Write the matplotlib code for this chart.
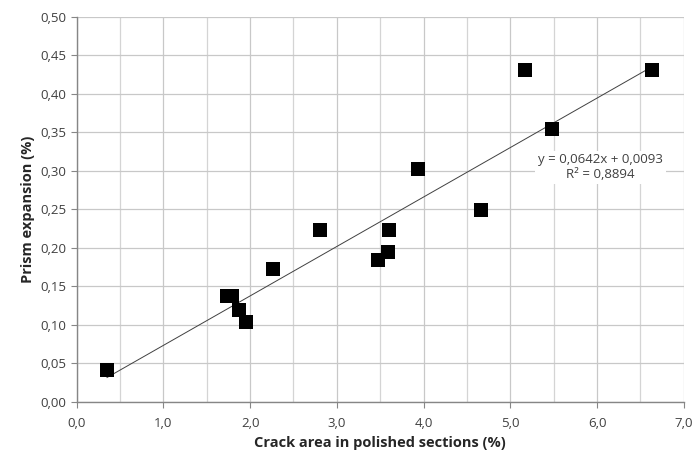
import numpy as np
import matplotlib.pyplot as plt
from matplotlib.ticker import MultipleLocator, FuncFormatter

############################################
# data
crack_area = [0.35, 1.73, 1.79, 1.87, 1.95, 2.26, 2.80, 3.47, 3.59, 3.60,
              3.94, 4.66, 5.17, 5.48, 6.63]
prism_exp = [0.042, 0.138, 0.137, 0.119, 0.104, 0.173, 0.223, 0.184, 0.195,
             0.223, 0.302, 0.249, 0.431, 0.355, 0.431]
slope, intercept, r2 = 0.0642, 0.0093, 0.8894

plt.rcParams['font.family'] = ['Open Sans', 'DejaVu Sans']

#############################################
## plotting
fig, ax = plt.subplots(figsize=(6.97, 4.55), dpi=100)
fig.subplots_adjust(left=0.110, right=0.981, top=0.963, bottom=0.1165)

ax.scatter(crack_area, prism_exp, marker='s', s=90, color='black', zorder=3, linewidths=0)

# linear trend line
xfit = np.array([min(crack_area), max(crack_area)])
ax.plot(xfit, slope * xfit + intercept, color='#404040', lw=0.7, zorder=2)

ax.text(6.04, 0.305, 'y = 0,0642x + 0,0093\nR² = 0,8894', ha='center', va='center',
        fontsize=9.5, color='#404040', linespacing=1.15,
        bbox=dict(facecolor='white', edgecolor='none', pad=2), zorder=4)

# scales
ax.set_xlim(0, 7)
ax.set_ylim(0, 0.5)
ax.xaxis.set_major_locator(MultipleLocator(1.0))
ax.xaxis.set_minor_locator(MultipleLocator(0.5))
ax.yaxis.set_major_locator(MultipleLocator(0.05))
ax.xaxis.set_major_formatter(FuncFormatter(lambda v, p: f'{v:.1f}'.replace('.', ',')))
ax.yaxis.set_major_formatter(FuncFormatter(lambda v, p: f'{v:.2f}'.replace('.', ',')))

ax.grid(which='major', color='#c8c8c8', lw=0.9)
ax.grid(which='minor', axis='x', color='#d4d4d4', lw=0.9)
ax.set_axisbelow(True)

for s in ['top', 'right']:
    ax.spines[s].set_visible(False)
for s in ['left', 'bottom']:
    ax.spines[s].set_color('#868686')
    ax.spines[s].set_linewidth(1.0)

ax.tick_params(which='both', direction='out', length=4, color='#868686',
               labelsize=9.5, labelcolor='#404040')
ax.tick_params(which='minor', length=0)
ax.tick_params(axis='x', pad=7)

ax.set_xlabel('Crack area in polished sections (%)', fontsize=10.5, fontweight='bold',
              color='#262626', labelpad=4)
ax.set_ylabel('Prism expansion (%)', fontsize=10.5, fontweight='bold', color='#262626',
              labelpad=4)

fig.savefig('out.png', dpi=100)
